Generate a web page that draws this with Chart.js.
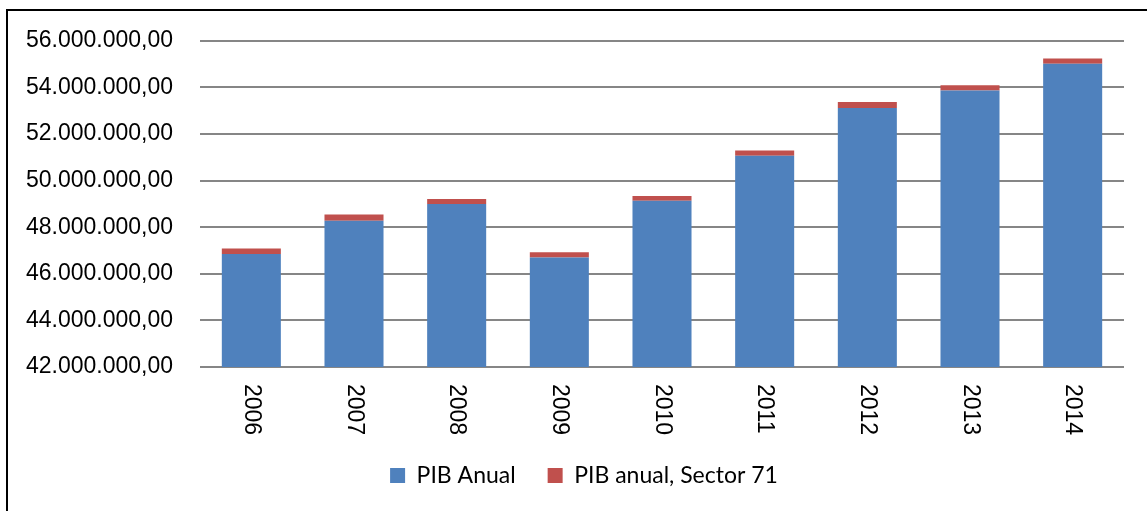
<!DOCTYPE html>
<html>
<head>
<meta charset="utf-8">
<script src="https://cdn.jsdelivr.net/npm/chart.js@4.4.1/dist/chart.umd.min.js"></script>
<style>
  body { margin: 0; background: #fff; overflow: hidden; }
  #wrap { position: relative; width: 1147px; height: 511px; }
  #frame { position: absolute; left: 6px; top: 9px; width: 1200px; height: 600px;
           border-left: 2px solid #000; border-top: 2px solid #000; }
  canvas { position: absolute; left: 0; top: 0; }
</style>
</head>
<body>
<div id="wrap">
  <div id="frame"></div>
  <canvas id="grafico" width="1147" height="511"></canvas>
</div>
<script>
const anos = ['2006', '2007', '2008', '2009', '2010', '2011', '2012', '2013', '2014'];
const pibAnual = [46850000, 48280000, 49000000, 46700000, 49130000, 51070000, 53120000, 53870000, 55010000];
const pibSector71 = [240000, 260000, 210000, 220000, 210000, 220000, 250000, 220000, 230000];

// formato 56.000.000,00
function formato(v) {
  const s = Math.round(v).toString().replace(/\B(?=(\d{3})+(?!\d))/g, '.');
  return s + ',00';
}

// etiquetas del eje x giradas 90 grados en sentido horario
const etiquetasGiradas = {
  id: 'etiquetasGiradas',
  afterLayout(chart) {
    // la leyenda va un poco a la derecha del centro
    chart.legend.left += 22;
    chart.legend.right += 22;
  },
  afterDraw(chart) {
    const x = chart.scales.x;
    const ctx = chart.ctx;
    ctx.save();
    ctx.font = '23px "Liberation Sans", Arial, sans-serif';
    ctx.fillStyle = '#000';
    ctx.textAlign = 'left';
    ctx.textBaseline = 'middle';
    anos.forEach((a, i) => {
      ctx.save();
      ctx.translate(x.getPixelForTick(i), x.top + 17);
      ctx.rotate(Math.PI / 2);
      ctx.fillText(a, 0, 0);
      ctx.restore();
    });
    ctx.restore();
  }
};

new Chart(document.getElementById('grafico'), {
  type: 'bar',
  data: {
    labels: anos,
    datasets: [
      {
        label: 'PIB Anual',
        data: pibAnual,
        backgroundColor: '#4F81BD',
        barPercentage: 0.575,
        categoryPercentage: 1
      },
      {
        label: 'PIB anual, Sector 71',
        data: pibSector71,
        backgroundColor: '#C0504D',
        barPercentage: 0.575,
        categoryPercentage: 1
      }
    ]
  },
  options: {
    responsive: false,
    animation: false,
    layout: { padding: { top: 27, right: 23, bottom: 14, left: 0 } },
    plugins: {
      legend: {
        position: 'bottom',
        labels: {
          boxWidth: 15,
          boxHeight: 15,
          padding: 32,
          color: '#000',
          font: { family: 'Lato, sans-serif', size: 23 }
        }
      },
      tooltip: { enabled: false }
    },
    scales: {
      x: {
        stacked: true,
        grid: { display: false },
        border: { display: false },
        ticks: { display: false },
        afterFit(scale) { scale.height = 65; }
      },
      y: {
        stacked: true,
        min: 42000000,
        max: 56000000,
        afterFit(scale) { scale.width = 200; },
        border: { display: false },
        grid: { color: '#868686', lineWidth: 2, drawTicks: false },
        ticks: {
          stepSize: 2000000,
          padding: 27,
          color: '#000',
          font: { family: '"Liberation Sans", Arial, sans-serif', size: 23 },
          callback: v => formato(v)
        }
      }
    }
  },
  plugins: [etiquetasGiradas]
});
</script>
</body>
</html>
